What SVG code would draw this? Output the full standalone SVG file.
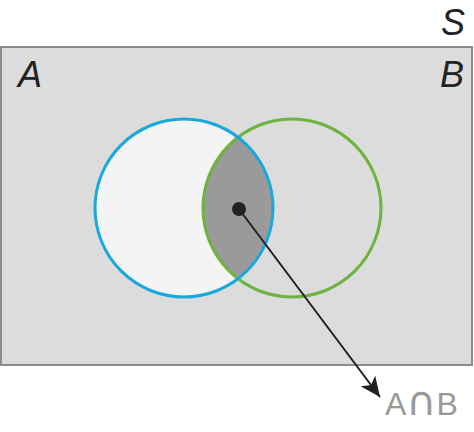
<svg xmlns="http://www.w3.org/2000/svg" width="474" height="432" viewBox="0 0 474 432">
<style>
.lbl{font-family:"Liberation Sans",Arial,sans-serif;font-style:italic;font-size:36px;fill:#222}
.circ{stroke-width:3;}
</style>
<defs>
<clipPath id="clipA"><circle cx="184" cy="208" r="89"/></clipPath>
<marker id="arr" markerWidth="22" markerHeight="18" refX="20" refY="9" orient="auto" markerUnits="userSpaceOnUse">
<path d="M0,0 L20,9 L0,18 L5,9 Z" fill="#222"/>
</marker>
</defs>
<g id="universe">
<rect x="1" y="47" width="471" height="318" fill="#dcdcdc" stroke="#8c8c8c" stroke-width="2"/>
<text class="lbl" x="441" y="35">S</text>
</g>
<g id="setA">
<circle cx="184" cy="208" r="89" fill="#f4f4f5"/>
<text class="lbl" x="18" y="87">A</text>
</g>
<g id="intersection">
<circle cx="292" cy="208" r="89" fill="#9a9a9a" clip-path="url(#clipA)"/>
</g>
<g id="setB">
<circle cx="292" cy="208" r="89" fill="none" stroke="#6cb33f" class="circ"/>
<text class="lbl" x="440" y="87">B</text>
</g>
<g id="outlineA">
<circle cx="184" cy="208" r="89" fill="none" stroke="#1aa8dc" class="circ"/>
</g>
<g id="connectors">
<line x1="239" y1="209" x2="380" y2="397" stroke="#222" stroke-width="2" marker-end="url(#arr)"/>
<circle cx="239" cy="209" r="7" fill="#222"/>
</g>
<g id="label-AnB">
<text x="385" y="415" font-family="'Liberation Sans',Arial,sans-serif" font-size="31" fill="#999" textLength="73" lengthAdjust="spacingAndGlyphs">A<tspan font-family="'DejaVu Sans',sans-serif" font-size="40">∩</tspan>B</text>
</g>
</svg>
